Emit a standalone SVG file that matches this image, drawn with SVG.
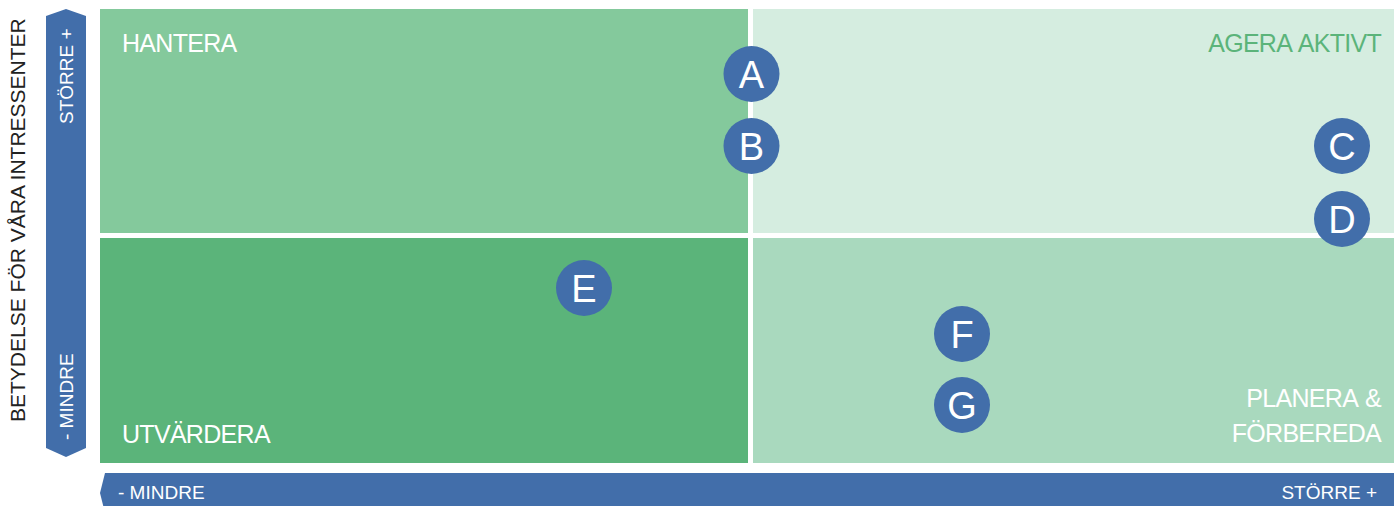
<svg xmlns="http://www.w3.org/2000/svg" width="1394" height="506" viewBox="0 0 1394 506">
<style>
text{font-family:"Liberation Sans",Arial,sans-serif;}
.q{font-size:25px;letter-spacing:-0.7px;word-spacing:2px;fill:#fff;}
.ax{font-size:19px;fill:#fff;}
.c{fill:#426EAA;}
.cl{font-size:38px;fill:#fff;text-anchor:middle;}
</style>
<rect width="1394" height="506" fill="#fff"/>
<g id="q-hantera"><rect x="100" y="9" width="648" height="224" fill="#84C99C"/><text class="q" x="122" y="52">HANTERA</text></g>
<g id="q-agera"><rect x="753" y="9" width="641" height="224" fill="#D5EDE0"/><text class="q" x="1381" y="52" text-anchor="end" style="fill:#5BB47A">AGERA AKTIVT</text></g>
<g id="q-utvardera"><rect x="100" y="238" width="648" height="225" fill="#5BB47A"/><text class="q" x="122" y="443">UTVÄRDERA</text></g>
<g id="q-planera"><rect x="753" y="238" width="641" height="225" fill="#A9D9BE"/><text class="q" x="1381" y="407" text-anchor="end">PLANERA &amp;</text><text class="q" x="1381" y="442" text-anchor="end">FÖRBEREDA</text></g>
<g id="axis-y"><polygon class="c" points="46,16 66,9 86,16 86,448 66,457 46,448"/>
<text class="ax" transform="translate(73,124) rotate(-90)">STÖRRE +</text>
<text class="ax" transform="translate(73,440) rotate(-90)">- MINDRE</text></g>
<g id="axis-y-label"><text transform="translate(25,422) rotate(-90)" style="font-size:21px;fill:#222">BETYDELSE FÖR VÅRA INTRESSENTER</text></g>
<g id="axis-x"><polygon class="c" points="105,473 1394,473 1394,513 105,513 100,493"/>
<text class="ax" x="118" y="499">- MINDRE</text>
<text class="ax" x="1377" y="499" text-anchor="end">STÖRRE +</text></g>
<g id="connectors"></g>
<g id="node-a"><circle class="c" cx="751.5" cy="74" r="28"/><text class="cl" x="751.5" y="88">A</text></g>
<g id="node-b"><circle class="c" cx="751.5" cy="146" r="28"/><text class="cl" x="751.5" y="160">B</text></g>
<g id="node-c"><circle class="c" cx="1342" cy="146" r="28"/><text class="cl" x="1342" y="160">C</text></g>
<g id="node-d"><circle class="c" cx="1342" cy="219" r="28"/><text class="cl" x="1342" y="233">D</text></g>
<g id="node-e"><circle class="c" cx="584" cy="288" r="28"/><text class="cl" x="584" y="302">E</text></g>
<g id="node-f"><circle class="c" cx="962" cy="334" r="28"/><text class="cl" x="962" y="348">F</text></g>
<g id="node-g"><circle class="c" cx="962" cy="405" r="28"/><text class="cl" x="962" y="419">G</text></g>
</svg>
